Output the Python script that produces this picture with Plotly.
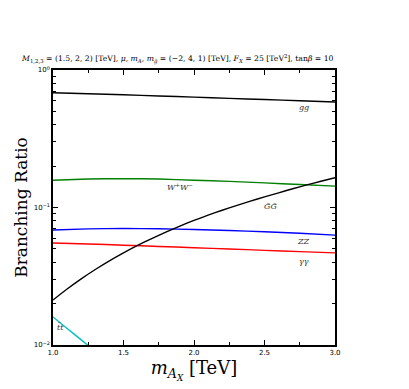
import numpy as np
import plotly.graph_objects as go

# m_AX grid [TeV]
mass = [1.0, 1.25, 1.5, 1.75, 2.0, 2.25, 2.5, 2.75, 3.0]
br_gg = [0.684, 0.672, 0.660, 0.647, 0.635, 0.622, 0.610, 0.597, 0.585]
br_ww = [0.158, 0.161, 0.162, 0.161, 0.158, 0.155, 0.151, 0.147, 0.143]
br_zz = [0.0686, 0.0699, 0.0703, 0.0700, 0.0692, 0.0680, 0.0666, 0.0649, 0.0630]
br_aa = [0.0552, 0.0543, 0.0532, 0.0521, 0.0510, 0.0499, 0.0488, 0.0478, 0.0468]

mass_gg_tilde = [1.0, 1.1, 1.2, 1.3, 1.4, 1.5, 1.6, 1.7, 1.8, 1.9, 2.0,
                 2.1, 2.2, 2.3, 2.4, 2.5, 2.6, 2.7, 2.8, 2.9, 3.0]
br_gg_tilde = [0.02123, 0.02553, 0.03027, 0.03540, 0.04093, 0.04677, 0.05297,
               0.05943, 0.06622, 0.07328, 0.08054, 0.08790, 0.09550, 0.1033,
               0.1112, 0.1194, 0.1279, 0.1368, 0.1459, 0.1552, 0.1648]

mass_tt = [1.0, 1.1, 1.2, 1.3]
br_tt = [0.0160, 0.0132, 0.0109, 0.0090]

y_minor = [k * 10.0 ** e for e in (-2, -1) for k in range(2, 10)]

SERIF = 'DejaVu Serif, Liberation Serif, serif'

fig = go.Figure()
curves = [
    (mass, br_gg, 'black'),
    (mass, br_ww, '#008000'),
    (mass, br_zz, '#0000ff'),
    (mass, br_aa, '#ff0000'),
    (mass_gg_tilde, br_gg_tilde, 'black'),
    (mass_tt, br_tt, '#00bfbf'),
]
for xs, ys, col in curves:
    fig.add_trace(go.Scatter(x=xs, y=ys, mode='lines',
                             line=dict(color=col, width=1.4, shape='spline', smoothing=0.6),
                             showlegend=False, hoverinfo='skip'))

labels = [
    ('gg', 2.78, 0.53),
    ('W<sup>+</sup>W<sup>\u2212</sup>', 1.90, 0.141),
    ('G\u0303G\u0303', 2.54, 0.101),
    ('ZZ', 2.78, 0.057),
    ('\u03b3\u03b3', 2.78, 0.0408),
    ('t\u0304t', 1.05, 0.0135),
]
for txt, lx, ly in labels:
    fig.add_annotation(x=lx, y=np.log10(ly), text='<i>' + txt + '</i>', showarrow=False,
                       font=dict(family=SERIF, size=8, color='#333'))

title = ('<i>M</i><sub>1,2,3</sub> = (1.5, 2, 2) [TeV], <i>\u03bc</i>, <i>m<sub>A</sub></i>, '
         '<i>m<sub>g\u0303</sub></i> = (\u22122, 4, 1) [TeV], <i>F<sub>X</sub></i> = 25 [TeV<sup>2</sup>], '
         'tan<i>\u03b2</i> = 10')

axis_common = dict(showline=True, linecolor='black', linewidth=1.5, mirror='ticks',
                   ticks='inside', tickcolor='black', showgrid=False, zeroline=False,
                   tickfont=dict(family='DejaVu Sans', size=7, color='black'))

# the page body adds an 8px offset, so the figure is sized to fit the window
fig.update_layout(
    width=401, height=381,
    margin=dict(l=37, r=74, t=62, b=44),
    paper_bgcolor='white', plot_bgcolor='white',
    title=dict(text=title, x=0.035, xanchor='left', y=0.86, yanchor='bottom',
               font=dict(family=SERIF, size=7.7, color='black')),
    xaxis=dict(range=[1.0, 3.0], tickvals=[1.0, 1.5, 2.0, 2.5, 3.0],
               ticktext=['1.0', '1.5', '2.0', '2.5', '3.0'], ticklen=5, tickwidth=1,
               minor=dict(tickvals=[1.25, 1.75, 2.25, 2.75], ticks='inside', ticklen=3,
                          tickcolor='black'),
               title=dict(text='<i>m<sub>A<sub>X</sub></sub></i> [TeV]', standoff=4,
                          font=dict(family=SERIF, size=18, color='black')),
               **axis_common),
    yaxis=dict(type='log', range=[-2, 0], tickvals=[0.01, 0.1, 1],
               ticktext=['10<sup>\u22122</sup>', '10<sup>\u22121</sup>', '10<sup>0</sup>'],
               ticklen=5, tickwidth=1,
               minor=dict(tickvals=y_minor, ticks='inside', ticklen=3, tickcolor='black',
                          showgrid=False),
               title=dict(text='Branching Ratio', standoff=2,
                          font=dict(family=SERIF, size=17, color='black')),
               **axis_common),
)

fig.write_html("out.html")
